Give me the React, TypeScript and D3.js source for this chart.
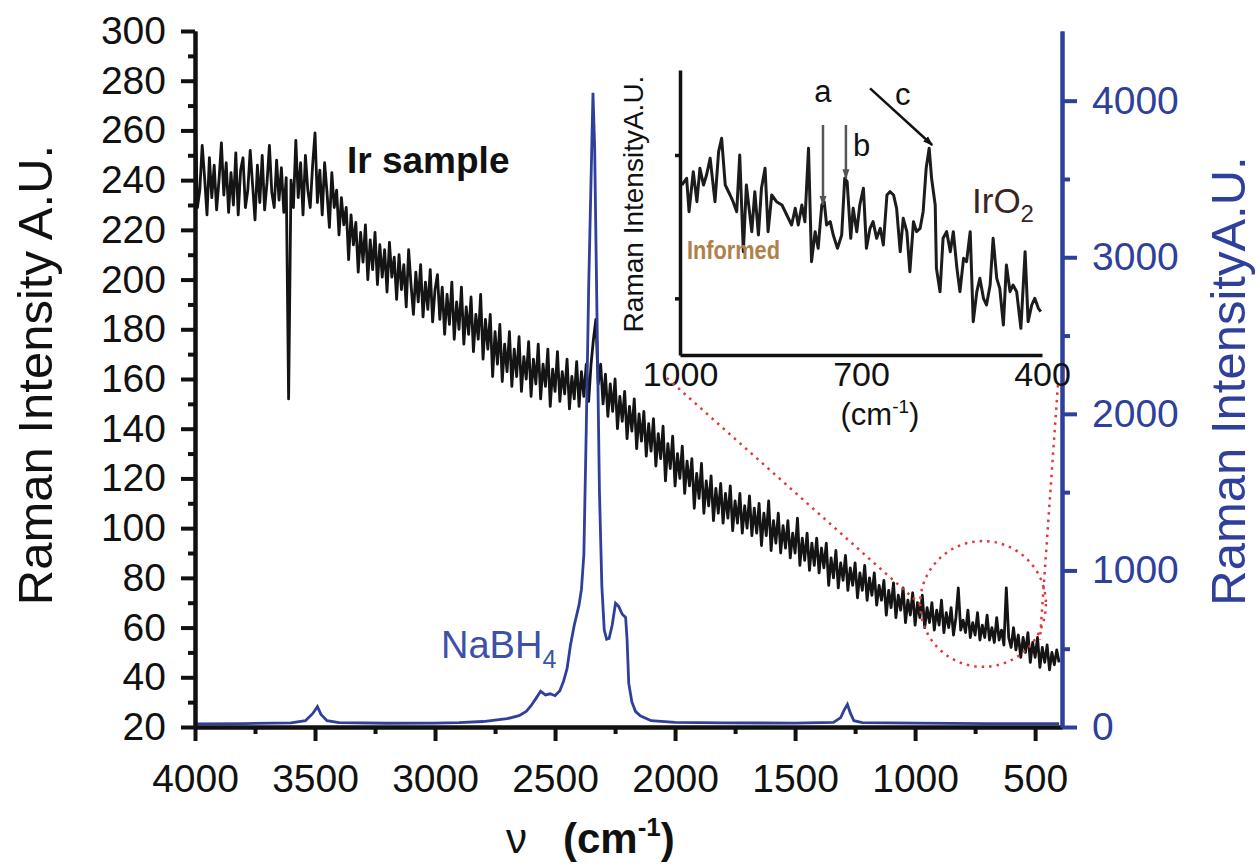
import React, { useEffect, useRef } from "react";
import * as d3 from "d3";

const FONT = "'Liberation Sans', Arial, Helvetica, sans-serif";
const BLUE = "#2e3f9c";
const RED = "#e0393b";

// Ir sample spectrum (left axis), [wavenumber, intensity]
const IR_SAMPLE: [number, number][] = [
  [4000, 272], [3990, 229], [3980, 236], [3970, 254], [3960, 241], [3950, 226], [3940, 249], [3930, 233],
  [3920, 246], [3910, 228], [3900, 240], [3890, 255], [3880, 234], [3870, 247], [3860, 227], [3850, 243],
  [3840, 230], [3830, 251], [3820, 226], [3810, 244], [3800, 249], [3790, 229], [3780, 236], [3770, 252],
  [3760, 238], [3750, 224], [3740, 246], [3730, 231], [3720, 250], [3710, 228], [3700, 239], [3690, 254],
  [3680, 235], [3670, 229], [3660, 248], [3650, 232], [3640, 245], [3630, 227], [3620, 241], [3610, 152],
  [3600, 240], [3590, 229], [3580, 256], [3570, 233], [3560, 247], [3550, 226], [3540, 250], [3530, 236],
  [3520, 229], [3510, 246], [3500, 259], [3490, 231], [3480, 244], [3470, 226], [3460, 247], [3450, 235],
  [3440, 221], [3430, 243], [3420, 229], [3410, 236], [3400, 218], [3390, 233], [3380, 222], [3370, 229],
  [3360, 208], [3350, 226], [3340, 214], [3330, 223], [3320, 203], [3310, 219], [3300, 207], [3290, 222],
  [3280, 200], [3270, 216], [3260, 204], [3250, 219], [3240, 198], [3230, 214], [3220, 201], [3210, 212],
  [3200, 195], [3190, 215], [3180, 201], [3170, 209], [3160, 192], [3150, 210], [3140, 196], [3130, 206],
  [3120, 189], [3110, 212], [3100, 198], [3090, 186], [3080, 203], [3070, 191], [3060, 206], [3050, 185],
  [3040, 199], [3030, 188], [3020, 204], [3010, 183], [3000, 196], [2990, 202], [2980, 184], [2970, 197],
  [2960, 178], [2950, 194], [2940, 182], [2930, 199], [2920, 176], [2910, 191], [2900, 180], [2890, 197],
  [2880, 174], [2870, 189], [2860, 178], [2850, 193], [2840, 171], [2830, 186], [2820, 176], [2810, 194],
  [2800, 168], [2790, 184], [2780, 172], [2770, 186], [2760, 161], [2750, 179], [2740, 166], [2730, 182],
  [2720, 159], [2710, 174], [2700, 163], [2690, 179], [2680, 157], [2670, 172], [2660, 161], [2650, 177],
  [2640, 155], [2630, 169], [2620, 160], [2610, 175], [2600, 153], [2590, 168], [2580, 158], [2570, 174],
  [2560, 152], [2550, 166], [2540, 157], [2530, 172], [2520, 149], [2510, 164], [2500, 155], [2490, 171],
  [2480, 151], [2470, 163], [2460, 154], [2450, 168], [2440, 148], [2430, 161], [2420, 152], [2410, 167],
  [2400, 149], [2390, 163], [2380, 153], [2370, 166], [2360, 151], [2350, 166], [2340, 176], [2330, 184],
  [2320, 158], [2310, 166], [2300, 150], [2290, 162], [2280, 145], [2270, 158], [2260, 147], [2250, 160],
  [2240, 140], [2230, 153], [2220, 143], [2210, 155], [2200, 136], [2190, 149], [2180, 139], [2170, 152],
  [2160, 132], [2150, 146], [2140, 135], [2130, 147], [2120, 129], [2110, 142], [2100, 131], [2090, 144],
  [2080, 125], [2070, 138], [2060, 128], [2050, 141], [2040, 119], [2030, 134], [2020, 124], [2010, 137],
  [2000, 117], [1990, 130], [1980, 120], [1970, 133], [1960, 114], [1950, 127], [1940, 117], [1930, 128],
  [1920, 108], [1910, 122], [1900, 112], [1890, 126], [1880, 106], [1870, 119], [1860, 109], [1850, 121],
  [1840, 103], [1830, 116], [1820, 106], [1810, 118], [1800, 102], [1790, 114], [1780, 104], [1770, 117],
  [1760, 99], [1750, 111], [1740, 102], [1730, 114], [1720, 98], [1710, 109], [1700, 100], [1690, 113],
  [1680, 97], [1670, 108], [1660, 98], [1650, 110], [1640, 93], [1630, 106], [1620, 97], [1610, 111],
  [1600, 91], [1590, 103], [1580, 94], [1570, 106], [1560, 90], [1550, 101], [1540, 92], [1530, 103],
  [1520, 88], [1510, 98], [1500, 90], [1490, 104], [1480, 85], [1470, 96], [1460, 87], [1450, 98],
  [1440, 83], [1430, 94], [1420, 85], [1410, 96], [1400, 82], [1390, 92], [1380, 84], [1370, 94],
  [1360, 77], [1350, 88], [1340, 80], [1330, 91], [1320, 76], [1310, 86], [1300, 79], [1290, 89],
  [1280, 75], [1270, 84], [1260, 77], [1250, 86], [1240, 72], [1230, 82], [1220, 75], [1210, 85],
  [1200, 71], [1190, 80], [1180, 73], [1170, 82], [1160, 69], [1150, 77], [1140, 71], [1130, 79],
  [1120, 65], [1110, 75], [1100, 68], [1090, 78], [1080, 64], [1070, 73], [1060, 67], [1050, 76],
  [1040, 62], [1030, 71], [1020, 65], [1010, 74], [1000, 61], [990, 70], [980, 64], [970, 73],
  [960, 60], [950, 68], [940, 62], [930, 70], [920, 59], [910, 67], [900, 61], [890, 71],
  [880, 58], [870, 66], [860, 60], [850, 68], [840, 57], [830, 64], [820, 76], [810, 59],
  [800, 63], [790, 58], [780, 67], [770, 56], [760, 62], [750, 57], [740, 66], [730, 55],
  [720, 61], [710, 56], [700, 65], [690, 55], [680, 60], [670, 54], [660, 64], [650, 55],
  [640, 59], [630, 53], [620, 76], [610, 56], [600, 52], [590, 60], [580, 51], [570, 57],
  [560, 48], [550, 56], [540, 50], [530, 58], [520, 46], [510, 54], [500, 48], [490, 56],
  [480, 44], [470, 52], [460, 46], [450, 53], [440, 43], [430, 50], [420, 45], [410, 51], [400, 46],
];

// NaBH4 spectrum (right axis)
const NABH4: [number, number][] = [
  [4000, 20], [3800, 22], [3600, 26], [3540, 40], [3510, 85], [3490, 130], [3475, 80], [3450, 40],
  [3400, 28], [3200, 24], [3000, 25], [2900, 28], [2800, 35], [2700, 53], [2650, 72], [2620, 100],
  [2600, 136], [2580, 181], [2560, 228], [2540, 205], [2520, 212], [2500, 200], [2480, 232], [2465, 290],
  [2450, 372], [2436, 520], [2420, 650], [2400, 780], [2390, 880], [2380, 1100], [2370, 1900], [2360, 2800],
  [2350, 3500], [2342, 4050], [2335, 3700], [2325, 2600], [2315, 1500], [2305, 900], [2295, 620], [2285, 560],
  [2275, 565], [2262, 650], [2248, 790], [2235, 770], [2220, 720], [2206, 700], [2200, 560], [2193, 280],
  [2180, 160], [2165, 100], [2145, 72], [2100, 40], [2000, 30], [1800, 26], [1500, 25], [1340, 30],
  [1310, 60], [1295, 110], [1282, 145], [1270, 90], [1255, 40], [1220, 28], [1000, 25], [700, 22], [400, 22],
];

// IrO2 zoomed region (inset, arbitrary units)
const IRO2_INSET: [number, number][] = [
  [997, 51], [989, 53], [985, 43], [978, 55], [972, 46], [967, 56], [961, 51], [956, 54], [950, 59], [942, 46],
  [936, 61], [931, 65], [925, 51], [917, 48], [912, 46], [906, 43], [901, 60], [895, 31], [890, 51], [881, 37],
  [876, 49], [870, 36], [865, 50], [859, 56], [854, 37], [848, 48], [840, 46], [831, 45], [823, 42], [815, 39],
  [809, 44], [804, 39], [798, 45], [793, 40], [787, 62], [782, 28], [776, 37], [771, 32], [765, 45], [761, 46],
  [757, 39], [751, 40], [746, 36], [739, 32], [732, 36], [727, 53], [723, 52], [717, 35], [713, 44], [707, 37],
  [702, 45], [696, 50], [691, 32], [685, 38], [680, 40], [674, 35], [668, 38], [663, 33], [657, 48], [652, 49],
  [646, 48], [641, 44], [635, 31], [630, 41], [624, 37], [619, 25], [613, 40], [608, 37], [602, 38], [597, 43],
  [592, 56], [587, 62], [583, 53], [577, 45], [575, 26], [569, 19], [564, 35], [558, 37], [552, 31], [547, 37],
  [541, 26], [536, 19], [530, 29], [525, 28], [519, 37], [514, 10], [508, 19], [503, 23], [497, 17], [492, 15],
  [486, 21], [481, 35], [475, 23], [470, 20], [464, 9], [459, 27], [453, 19], [448, 21], [442, 19], [435, 8],
  [428, 31], [423, 10], [417, 15], [412, 17], [406, 14], [402, 13],
];

const X_TICKS = [4000, 3500, 3000, 2500, 2000, 1500, 1000, 500];
const X_MINOR = [3750, 3250, 2750, 2250, 1750, 1250, 750];
const LEFT_TICKS = [20, 40, 60, 80, 100, 120, 140, 160, 180, 200, 220, 240, 260, 280, 300];
const LEFT_MINOR = [30, 50, 70, 90, 110, 130, 150, 170, 190, 210, 230, 250, 270, 290];
const RIGHT_TICKS = [0, 1000, 2000, 3000, 4000];
const RIGHT_MINOR = [500, 1500, 2500, 3500];
const INSET_X_TICKS = [1000, 700, 400];
const INSET_Y_TICKS = [17, 60];

// peak markers in the inset
const INSET_ARROWS: { from: [number, number]; to: [number, number]; color: string }[] = [
  { from: [763, 69], to: [763, 45], color: "#555" },
  { from: [725, 69], to: [725, 53], color: "#555" },
  { from: [685, 80], to: [582, 63], color: "#111" },
];

// zoom annotation (main axes units)
const ZOOM_CIRCLE = { w: 717, v: 69.5, rw: 262 };
const ZOOM_LINES: [number, number][][] = [
  [[2034, 160.4], [980, 69.5]],
  [[405, 157.6], [480, 55]],
];

const Chart = () => {
  const svgRef = useRef<SVGSVGElement>(null);

  useEffect(() => {
    const svg = d3.select(svgRef.current);
    svg.selectAll("*").remove();

    const x = d3.scaleLinear().domain([4000, 388]).range([195, 1062]);
    const yL = d3.scaleLinear().domain([20, 300]).range([727, 31]);
    const yR = d3.scaleLinear().domain([0, 4445]).range([727, 31]);

    const defs = svg.append("defs");
    ["#555", "#111"].forEach((c, i) => {
      defs
        .append("marker")
        .attr("id", `ah${i}`)
        .attr("viewBox", "0 0 10 10")
        .attr("refX", 9)
        .attr("refY", 5)
        .attr("markerWidth", 4)
        .attr("markerHeight", 4)
        .attr("orient", "auto")
        .append("path")
        .attr("d", "M0,1.5L10,5L0,8.5z")
        .attr("fill", c);
    });

    // series
    svg
      .append("path")
      .datum(IR_SAMPLE)
      .attr("fill", "none")
      .attr("stroke", "#141414")
      .attr("stroke-width", 2.8)
      .attr("stroke-linejoin", "round")
      .attr("d", d3.line<[number, number]>().x((d) => x(d[0])).y((d) => yL(d[1])));

    svg
      .append("path")
      .datum(NABH4)
      .attr("fill", "none")
      .attr("stroke", BLUE)
      .attr("stroke-width", 2.8)
      .attr("d", d3.line<[number, number]>().x((d) => x(d[0])).y((d) => yR(d[1])));

    // axes
    const styleAxis = (g, size, color, width = 4) => {
      g.attr("font-family", FONT).attr("font-size", size).attr("color", color).attr("stroke-width", width);
      g.selectAll("line").style("stroke-width", `${width}px`);
      g.selectAll("path").style("stroke-width", `${width}px`);
      g.selectAll("text").attr("fill", color).attr("stroke", "none");
    };

    const gxm = svg.append("g").attr("transform", "translate(0,727)");
    gxm.call(d3.axisBottom(x).tickValues(X_MINOR).tickSize(7).tickSizeOuter(0).tickFormat(() => ""));
    styleAxis(gxm, 39, "#111");
    const gx = svg.append("g").attr("transform", "translate(0,727)");
    gx.call(d3.axisBottom(x).tickValues(X_TICKS).tickSize(14).tickPadding(23).tickSizeOuter(0).tickFormat(d3.format("d")));
    styleAxis(gx, 39, "#111");

    const gym = svg.append("g").attr("transform", "translate(195,0)");
    gym.call(d3.axisLeft(yL).tickValues(LEFT_MINOR).tickSize(7).tickSizeOuter(0).tickFormat(() => ""));
    styleAxis(gym, 39, "#111");
    const gy = svg.append("g").attr("transform", "translate(195,0)");
    gy.call(d3.axisLeft(yL).tickValues(LEFT_TICKS).tickSize(14).tickPadding(15).tickSizeOuter(0));
    styleAxis(gy, 39, "#111");

    const grm = svg.append("g").attr("transform", "translate(1062,0)");
    grm.call(d3.axisRight(yR).tickValues(RIGHT_MINOR).tickSize(8).tickSizeOuter(0).tickFormat(() => ""));
    styleAxis(grm, 39, BLUE);
    const gr = svg.append("g").attr("transform", "translate(1062,0)");
    gr.call(d3.axisRight(yR).tickValues(RIGHT_TICKS).tickSize(15).tickPadding(15).tickSizeOuter(0).tickFormat(d3.format("d")));
    styleAxis(gr, 39, BLUE);

    // axis titles
    svg.append("text")
      .attr("transform", "translate(52,375) rotate(-90)")
      .attr("text-anchor", "middle")
      .attr("font-family", FONT)
      .attr("font-size", 49)
      .attr("fill", "#111")
      .text("Raman Intensity A.U.");
    svg.append("text")
      .attr("transform", "translate(1245,381) rotate(-90)")
      .attr("text-anchor", "middle")
      .attr("font-family", FONT)
      .attr("font-size", 49)
      .attr("fill", BLUE)
      .text("Raman IntensityA.U.");

    const xt = svg.append("g").attr("font-family", FONT).attr("font-weight", "bold").attr("fill", "#111");
    xt.append("text").attr("x", 506).attr("y", 853).attr("font-size", 42).attr("font-weight", "normal").text("ν");
    const xt2 = xt.append("text").attr("x", 563).attr("y", 853).attr("font-size", 42);
    xt2.append("tspan").text("(cm");
    xt2.append("tspan").attr("font-size", 26).attr("dy", -17).text("-1");
    xt2.append("tspan").attr("dy", 17).text(")");

    // series labels
    svg.append("text").attr("x", 347).attr("y", 173)
      .attr("font-family", FONT).attr("font-size", 37).attr("font-weight", "bold").attr("fill", "#111")
      .text("Ir sample");
    const nb = svg.append("text").attr("x", 441).attr("y", 658)
      .attr("font-family", FONT).attr("font-size", 38).attr("fill", "#3d50aa");
    nb.append("tspan").text("NaBH");
    nb.append("tspan").attr("font-size", 25).attr("dy", 10).text("4");

    // inset
    const xi = d3.scaleLinear().domain([1000, 400]).range([680, 1042]);
    const yi = d3.scaleLinear().domain([0, 85.5]).range([355, 70]);

    svg.append("path")
      .datum(IRO2_INSET)
      .attr("fill", "none")
      .attr("stroke", "#1c1c1c")
      .attr("stroke-width", 3)
      .attr("stroke-linejoin", "round")
      .attr("d", d3.line<[number, number]>().x((d) => xi(d[0])).y((d) => yi(d[1])));

    const gix = svg.append("g").attr("transform", "translate(0,355)");
    gix.call(d3.axisBottom(xi).tickValues(INSET_X_TICKS).tickSize(0).tickPadding(7).tickSizeOuter(0).tickFormat(d3.format("d")));
    styleAxis(gix, 34, "#111", 3.5);
    const giy = svg.append("g").attr("transform", "translate(680,0)");
    giy.call(d3.axisLeft(yi).tickValues(INSET_Y_TICKS).tickSize(5).tickSizeOuter(0).tickFormat(() => ""));
    styleAxis(giy, 34, "#111", 3.5);

    svg.append("text")
      .attr("transform", "translate(643,204) rotate(-90)")
      .attr("text-anchor", "middle")
      .attr("font-family", FONT)
      .attr("font-size", 28)
      .attr("fill", "#111")
      .text("Raman IntensityA.U.");

    const cm = svg.append("text").attr("x", 880).attr("y", 425).attr("text-anchor", "middle")
      .attr("font-family", FONT).attr("font-size", 31).attr("fill", "#111");
    cm.append("tspan").text("(cm");
    cm.append("tspan").attr("font-size", 19).attr("dy", -12).text("-1");
    cm.append("tspan").attr("dy", 12).text(")");

    INSET_ARROWS.forEach((a) => {
      svg.append("line")
        .attr("x1", xi(a.from[0])).attr("y1", yi(a.from[1]))
        .attr("x2", xi(a.to[0])).attr("y2", yi(a.to[1]))
        .attr("stroke", a.color)
        .attr("stroke-width", 2.5)
        .attr("marker-end", `url(#ah${a.color === "#111" ? 1 : 0})`);
    });
    const lbl = svg.append("g").attr("font-family", FONT).attr("font-size", 31).attr("fill", "#111");
    lbl.append("text").attr("x", xi(763)).attr("y", 102).attr("text-anchor", "middle").text("a");
    lbl.append("text").attr("x", 853).attr("y", 156).text("b");
    lbl.append("text").attr("x", 895).attr("y", 105).text("c");

    const iro = svg.append("text").attr("x", 972).attr("y", 213)
      .attr("font-family", FONT).attr("font-size", 35).attr("fill", "#3a2424");
    iro.append("tspan").text("IrO");
    iro.append("tspan").attr("font-size", 24).attr("dy", 9).text("2");

    svg.append("text").attr("x", 687).attr("y", 259)
      .attr("font-family", FONT).attr("font-size", 25).attr("font-weight", "bold")
      .attr("fill", "#b0804a")
      .attr("textLength", 93).attr("lengthAdjust", "spacingAndGlyphs")
      .text("Informed");

    // zoom annotation
    const ann = svg.append("g").attr("fill", "none").attr("stroke", RED)
      .attr("stroke-width", 2.5).attr("stroke-dasharray", "2.5 5");
    ann.append("circle")
      .attr("cx", x(ZOOM_CIRCLE.w)).attr("cy", yL(ZOOM_CIRCLE.v))
      .attr("r", Math.abs(x(ZOOM_CIRCLE.w) - x(ZOOM_CIRCLE.w + ZOOM_CIRCLE.rw)));
    ZOOM_LINES.forEach((l) => {
      ann.append("line")
        .attr("x1", x(l[0][0])).attr("y1", yL(l[0][1]))
        .attr("x2", x(l[1][0])).attr("y2", yL(l[1][1]));
    });
  }, []);

  return (
    <svg
      ref={svgRef}
      width={1256}
      height={865}
      style={{ position: "absolute", left: 0, top: 0, background: "#fff" }}
    ></svg>
  );
};

export default function App() {
  return <Chart />;
}
